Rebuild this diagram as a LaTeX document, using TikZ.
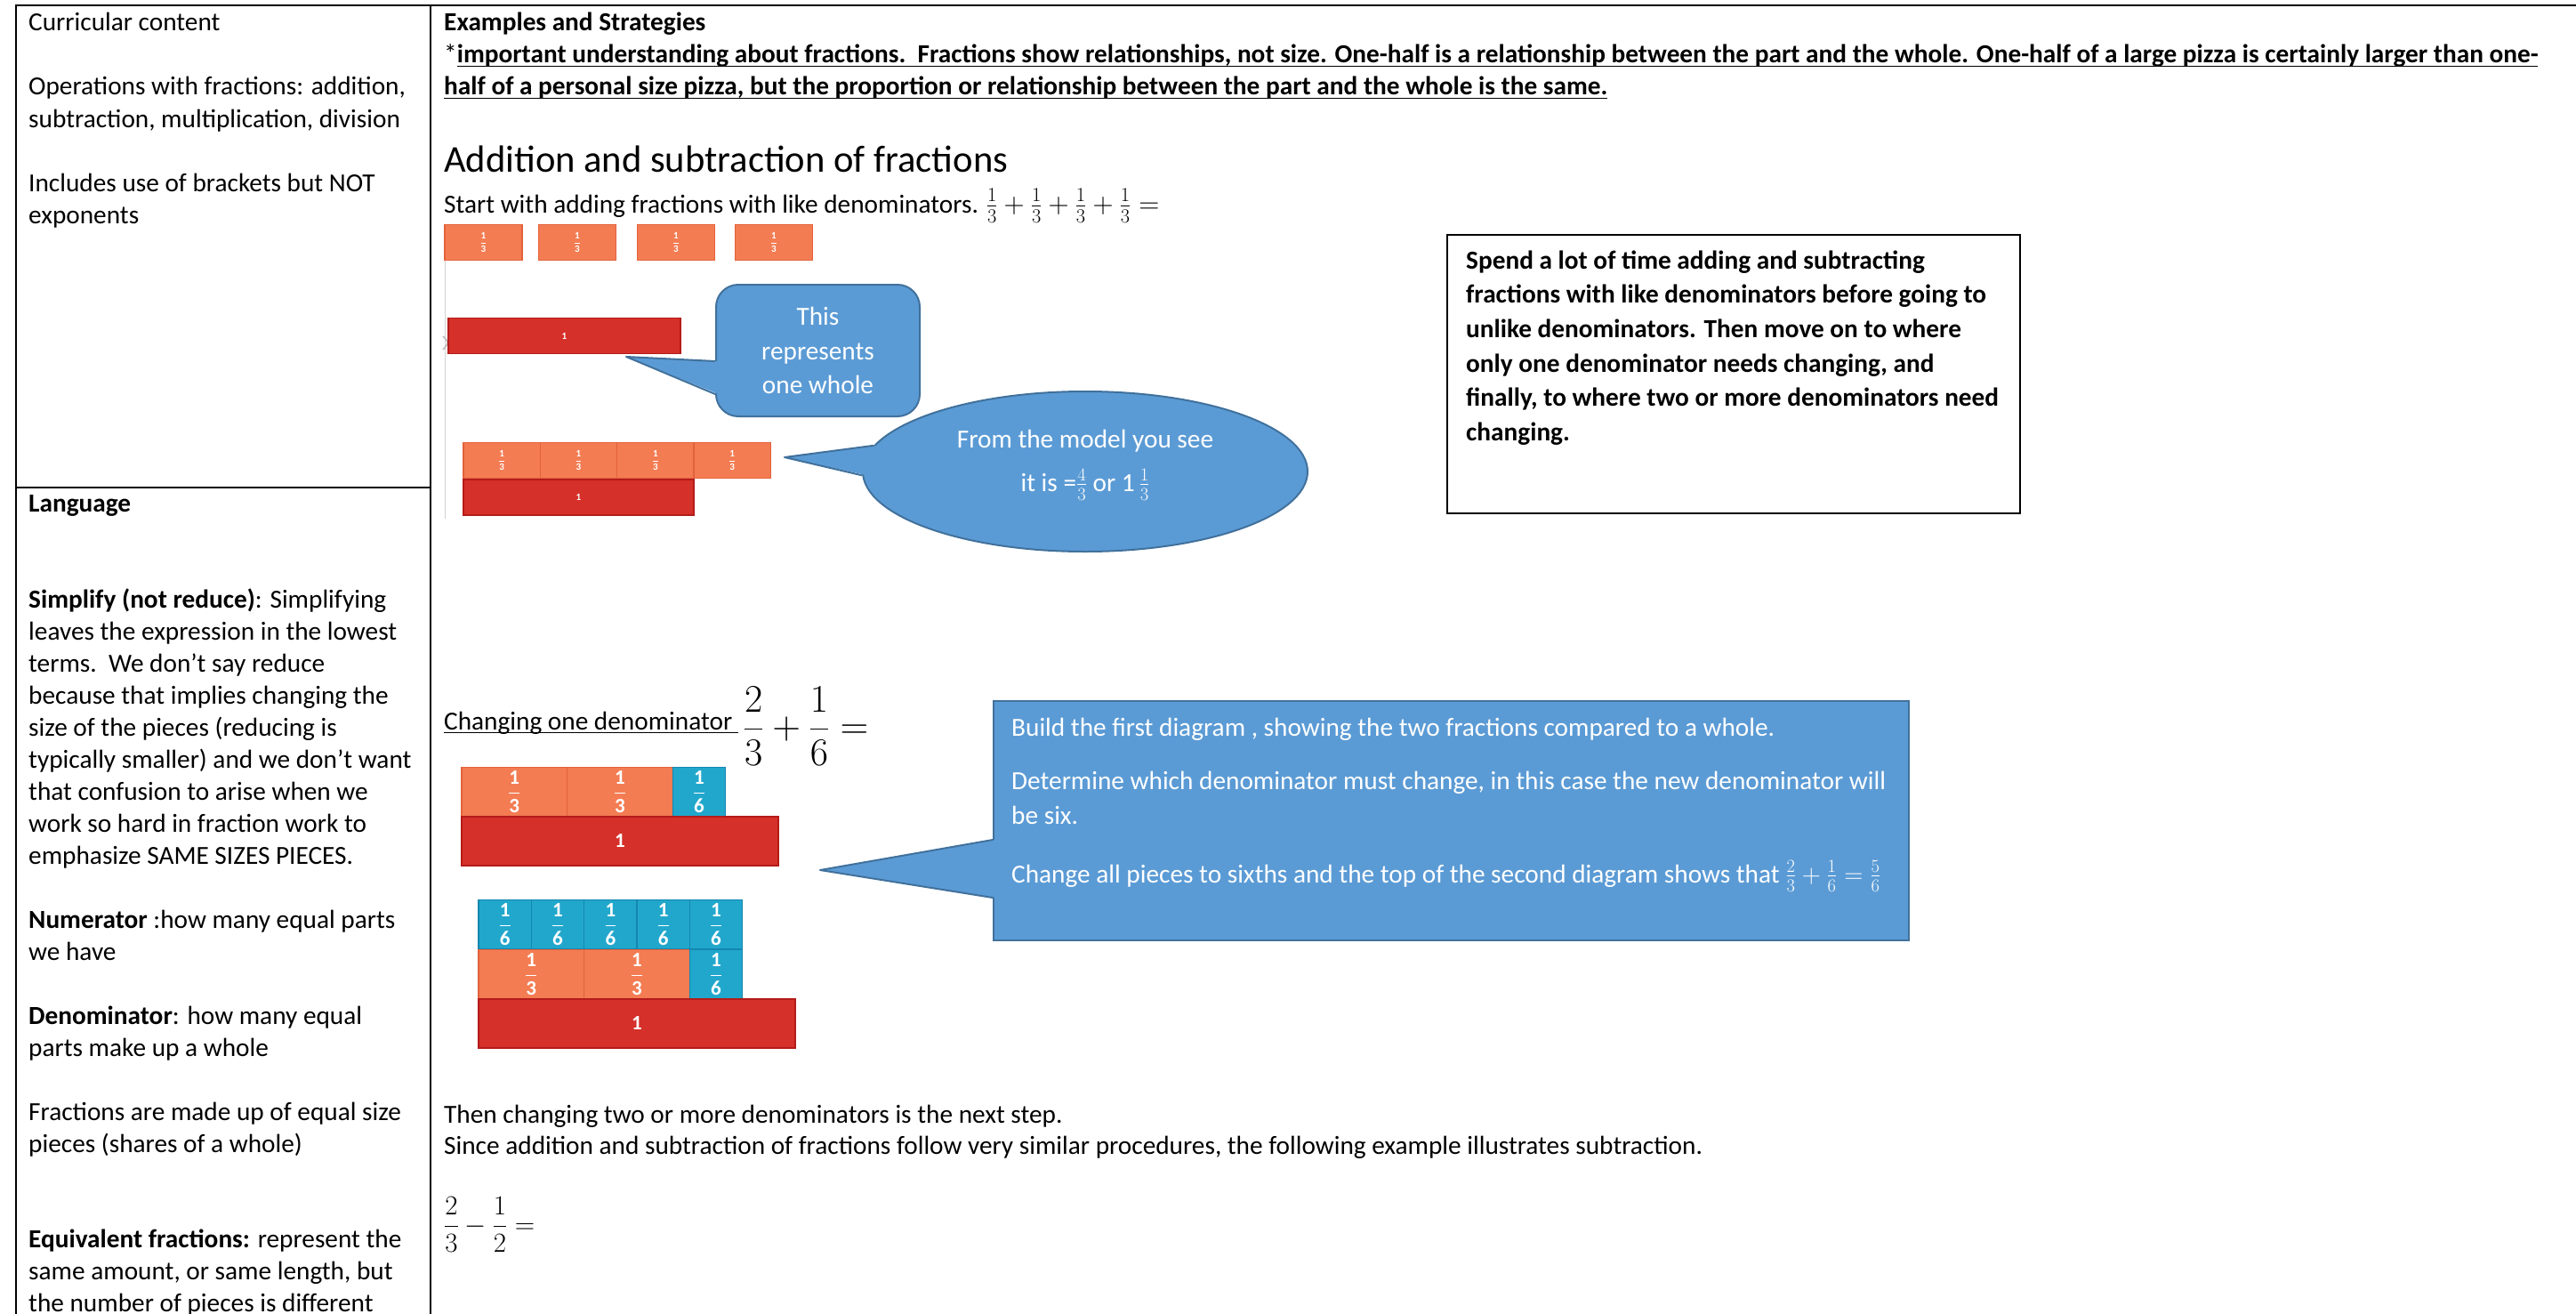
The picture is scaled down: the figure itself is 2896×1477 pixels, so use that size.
\documentclass[tikz,border=0pt]{standalone}
\usepackage{fix-cm}
\usepackage{amsmath}
\usepackage{fontspec}
\setmainfont{Carlito}
\usetikzlibrary{shapes.geometric}

\definecolor{callblue}{RGB}{91,155,213}
\definecolor{calledge}{RGB}{65,113,156}
\definecolor{thirdcol}{RGB}{243,124,83}
\definecolor{thirdedge}{RGB}{226,98,60}
\definecolor{wholecol}{RGB}{213,48,41}
\definecolor{wholeedge}{RGB}{180,28,26}
\definecolor{sixthcol}{RGB}{34,167,204}
\definecolor{sixthedge}{RGB}{20,135,175}

\newcommand{\bodysize}{\fontsize{29.3}{36}\selectfont}
\newcommand{\undl}[1]{\underline{\smash{#1}}}
\newcommand{\barfrac}[2]{$\dfrac{\text{\bfseries #1}}{\text{\bfseries #2}}$}

\tikzset{
  txt/.style={anchor=base west, inner sep=0pt, font=\bodysize},
  btxt/.style={txt, font=\bodysize\bfseries},
  wtxt/.style={txt, text=white},
  ctxt/.style={anchor=base, inner sep=0pt, font=\bodysize, text=white},
  frame/.style={line width=2.5pt, line cap=rect},
  piece/.style={draw, line width=1.2pt, inner sep=0pt, text=white},
  third piece/.style={piece, fill=thirdcol, draw=thirdedge},
  sixth piece/.style={piece, fill=sixthcol, draw=sixthedge},
  whole piece/.style={piece, fill=wholecol, draw=wholeedge},
  small bar/.style={minimum height=40, font=\fontsize{11}{12}\selectfont\bfseries},
  big bar/.style={minimum height=55, font=\fontsize{23}{24}\selectfont\bfseries},
  bubble/.style={fill=callblue, draw=calledge, line width=2pt}
}

\begin{document}
\begin{tikzpicture}[x=1pt, y=-1pt, >=stealth]
  \useasboundingbox (0,0) rectangle (2896,1477);

  % frame
  \draw[frame] (18,1477) -- (18,6) -- (2896,6);
  \draw[frame] (484,6) -- (484,1477);
  \draw[frame] (18,548) -- (484,548);

  % left column
  \node[txt] (cur) at (32,35) {Curricular content};
  \node[txt] (opsa) at (32,107) {Operations with fractions: addition,};
  \node[txt] (opsb) at (32,143) {subtraction, multiplication, division};
  \node[txt] (brka) at (32,215) {Includes use of brackets but NOT};
  \node[txt] (brkb) at (32,251) {exponents};

  \node[btxt] (lang) at (32,575) {Language};
  \foreach \l [count=\i from 0] in {%
      {\textbf{Simplify (not reduce)}: Simplifying},
      leaves the expression in the lowest,
      {terms.\ \ We don’t say reduce},
      because that implies changing the,
      size of the pieces (reducing is,
      typically smaller) and we don’t want,
      that confusion to arise when we,
      work so hard in fraction work to,
      emphasize SAME SIZES PIECES.}
    \node[txt] (simp\i) at (32,683+36*\i) {\l};
  \node[txt] (numa) at (32,1043) {\textbf{Numerator} :how many equal parts};
  \node[txt] (numb) at (32,1079) {we have};
  \node[txt] (dena) at (32,1151) {\textbf{Denominator}: how many equal};
  \node[txt] (denb) at (32,1187) {parts make up a whole};
  \node[txt] (frca) at (32,1259) {Fractions are made up of equal size};
  \node[txt] (frcb) at (32,1295) {pieces (shares of a whole)};
  \node[txt] (eqva) at (32,1402) {\textbf{Equivalent fractions:} represent the};
  \node[txt] (eqvb) at (32,1438) {same amount, or same length, but};
  \node[txt] (eqvc) at (32,1474) {the number of pieces is different};

  % right column, heading
  \node[btxt] (exhead) at (499,35) {Examples and Strategies};
  \node[btxt] (impa) at (499,71) {{\mdseries*}\undl{important understanding about fractions.\ \ Fractions show relationships, not size. One-half is a relationship between the part and the whole. One-half of a large pizza is certainly larger than one-}};
  \node[btxt] (impb) at (499,107) {\undl{half of a personal size pizza, but the proportion or relationship between the part and the whole is the same.}};

  \node[txt, font=\fontsize{42.6}{50}\selectfont] (title) at (499,193) {Addition and subtraction of fractions};
  \node[txt] (start) at (499,239) {Start with adding fractions with like denominators. {\fontsize{32}{36}\selectfont$\frac{1}{3}+\frac{1}{3}+\frac{1}{3}+\frac{1}{3}=$}};

  % like denominators model
  \draw[gray!35, line width=1pt] (500,253) -- (500,583);
  \draw[gray!55, line width=1.5pt] (498,378) .. controls (505,385) .. (498,393);
  \foreach \x [count=\i] in {543.5,649,760,870}
    \node[third piece, small bar, minimum width=87] (ta\i) at (\x,272.5) {\barfrac{1}{3}};
  \node[whole piece, small bar, minimum width=261] (onea) at (634.5,377.5) {1};
  \foreach \i in {0,...,3}
    \node[third piece, small bar, minimum width=86.3] (tb\i) at (564.2+86.3*\i,517.5) {\barfrac{1}{3}};
  \node[whole piece, small bar, minimum width=259] (oneb) at (650.5,559) {1};

  % callout: one whole
  \node[bubble, rounded corners=25pt, minimum width=229, minimum height=148, inner sep=0pt,
        align=center, text=white, font=\fontsize{29.3}{38.5}\selectfont] (onewhole) at (919.5,394) {This\\represents\\one whole};
  \coordinate (tipa) at (704,401);
  \fill[callblue] ([xshift=4pt,yshift=-12pt]onewhole.west) -- (tipa) -- ([xshift=4pt,yshift=-49pt]onewhole.west) -- cycle;
  \draw[calledge, line width=2pt, line join=round] ([yshift=-12pt]onewhole.west) -- (tipa) -- ([yshift=-49pt]onewhole.west);

  % callout: from the model
  \node[bubble, ellipse, minimum width=500, minimum height=180, inner sep=0pt] (model) at (1220,530) {};
  \coordinate (tipb) at (882,514);
  \fill[callblue] ([xshift=6pt]model.173) -- (tipb) -- ([xshift=6pt]model.181) -- cycle;
  \draw[calledge, line width=2pt, line join=round] (model.173) -- (tipb) -- (model.181);
  \node[ctxt] (modela) at (1220,503) {From the model you see};
  \node[ctxt] (modelb) at (1220,552) {it is =$\frac{4}{3}$ or 1\,$\frac{1}{3}$};

  % strategy box
  \node[draw, line width=2pt, minimum width=644, minimum height=313, inner sep=0pt] (spend) at (1949,420.5) {};
  \foreach \l [count=\i from 0] in {%
      Spend a lot of time adding and subtracting,
      fractions with like denominators before going to,
      unlike denominators. Then move on to where,
      {only one denominator needs changing, and},
      {finally, to where two or more denominators need},
      changing.}
    \node[btxt] (spend\i) at (1648,302+38.7*\i) {\l};

  % changing one denominator
  \node[txt] (chg) at (499,820) {\undl{Changing one denominator\ }\hspace{6pt}\raisebox{-10pt}{\fontsize{44}{50}\selectfont$\dfrac{2}{3}+\dfrac{1}{6}=$}};
  \node[third piece, big bar, minimum width=118.7] (caa) at (578.3,890) {\barfrac{1}{3}};
  \node[third piece, big bar, minimum width=118.7] (cab) at (697,890) {\barfrac{1}{3}};
  \node[sixth piece, big bar, minimum width=59.3] (cac) at (786,890) {\barfrac{1}{6}};
  \node[whole piece, big bar, minimum width=356] (onec) at (697,945.5) {1};
  \foreach \i in {0,...,4}
    \node[sixth piece, big bar, minimum width=59.3] (cb\i) at (567.7+59.33*\i,1039) {\barfrac{1}{6}};
  \node[third piece, big bar, minimum width=118.7] (cca) at (597.3,1095) {\barfrac{1}{3}};
  \node[third piece, big bar, minimum width=118.7] (ccb) at (716,1095) {\barfrac{1}{3}};
  \node[sixth piece, big bar, minimum width=59.3] (ccc) at (805,1095) {\barfrac{1}{6}};
  \node[whole piece, big bar, minimum width=356] (oned) at (716,1150.5) {1};

  % callout: build the first diagram
  \node[bubble, minimum width=1029, minimum height=269, inner sep=0pt] (build) at (1631.5,922.5) {};
  \coordinate (tipc) at (922,978);
  \fill[callblue] ([xshift=4pt,yshift=-21.5pt]build.west) -- (tipc) -- ([xshift=4pt,yshift=-86.5pt]build.west) -- cycle;
  \draw[calledge, line width=2pt, line join=round] ([yshift=-21.5pt]build.west) -- (tipc) -- ([yshift=-86.5pt]build.west);
  \node[wtxt] (builda) at (1137,827) {Build the first diagram , showing the two fractions compared to a whole.};
  \node[wtxt] (buildb) at (1137,887) {Determine which denominator must change, in this case the new denominator will};
  \node[wtxt] (buildc) at (1137,926) {be six.};
  \node[wtxt] (buildd) at (1137,992) {Change all pieces to sixths and the top of the second diagram shows that $\frac{2}{3}+\frac{1}{6}=\frac{5}{6}$};

  % next step
  \node[txt] (nexta) at (499,1262) {Then changing two or more denominators is the next step.};
  \node[txt] (nextb) at (499,1297) {Since addition and subtraction of fractions follow very similar procedures, the following example illustrates subtraction.};
  \node[txt, font=\fontsize{31}{36}\selectfont] (subt) at (499,1386.5) {$\dfrac{2}{3}-\dfrac{1}{2}=$};
\end{tikzpicture}
\end{document}
